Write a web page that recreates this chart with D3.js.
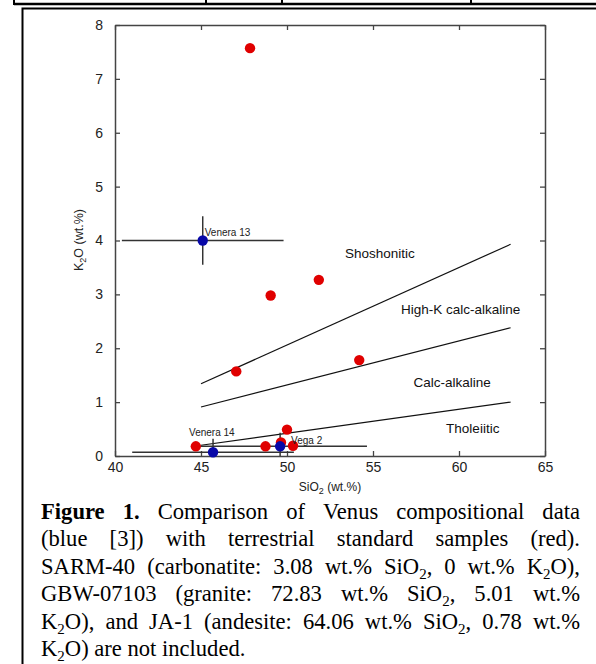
<!doctype html>
<html>
<head>
  <script src="https://d3js.org/d3.v7.min.js"></script>
  <style>
    body { margin:0; background:#fff; }
    svg { display:block; }
  </style>
</head>
<body>
  <script>
    // terrestrial standard samples (red)
    var redSiO2 = [47.85, 49.05, 51.85, 47.05, 54.2, 50.0, 44.7, 48.75, 49.65, 50.35];
    var redK2O  = [7.57, 2.98, 3.27, 1.57, 1.78, 0.49, 0.18, 0.18, 0.25, 0.19];

    // Venus lander data (blue) with error bars
    var venusNames   = ["Venera 13", "Venera 14", "Vega 2"];
    var venusSiO2    = [45.1, 45.7, 49.6];
    var venusK2O     = [4.0, 0.07, 0.18];
    var venusSiO2Err = [4.7, 4.7, 5.05];
    var venusK2OErr  = [0.45, 0.25, 0.25];

    // field boundaries (SiO2 end points, K2O at each end)
    var boundarySiO2 = [45, 63];
    var boundaryK2O  = [[1.34, 3.93], [0.91, 2.38], [0.2, 1.0]];

    // field names and where they sit
    var fieldNames = ["Shoshonitic", "High-K calc-alkaline", "Calc-alkaline", "Tholeiitic"];
    var fieldSiO2  = [55.4, 60.1, 59.6, 60.8];
    var fieldK2O   = [3.77, 2.73, 1.37, 0.52];

    var xTicks = [40, 45, 50, 55, 60, 65];
    var yTicks = [0, 1, 2, 3, 4, 5, 6, 7, 8];

    var captionLines = [
      "*Figure *1. Comparison of Venus compositional data",
      "(blue [3]) with terrestrial standard samples (red).",
      "SARM-40 (carbonatite: 3.08 wt.% SiO~2~, 0 wt.% K~2~O),",
      "GBW-07103 (granite: 72.83 wt.% SiO~2~, 5.01 wt.%",
      "K~2~O), and JA-1 (andesite: 64.06 wt.% SiO~2~, 0.78 wt.%",
      "K~2~O) are not included."
    ];

    var width = 596, height = 664;
    var sans = "'Liberation Sans', Arial, sans-serif";
    var serif = "'Liberation Serif', 'Times New Roman', serif";

    var svg = d3.select("body").append("svg")
      .attr("width", width)
      .attr("height", height);

    // bits of the page around the figure
    svg.append("line").attr("x1", 14).attr("x2", width).attr("y1", 4).attr("y2", 4)
      .attr("stroke", "#000").attr("stroke-width", 2.5);
    [14, 206, 282, 471].forEach(function(px){
      svg.append("line").attr("x1", px).attr("x2", px).attr("y1", 0).attr("y2", 5)
        .attr("stroke", "#000").attr("stroke-width", 2);
    });
    svg.append("path")
      .attr("d", "M22.5," + height + "V8.5H" + width)
      .attr("fill", "none").attr("stroke", "#000").attr("stroke-width", 2);

    var x = d3.scaleLinear().domain([40, 65]).range([115, 545]);
    var y = d3.scaleLinear().domain([0, 8]).range([456, 25]);

    // axes: ticks point inward on all four sides
    function styleAxis(g){
      g.select(".domain").attr("stroke", "#444").attr("stroke-width", 1.5);
      g.selectAll(".tick line").attr("stroke", "#444").attr("stroke-width", 1.3);
      g.selectAll("text").attr("font-family", sans).attr("font-size", 14).attr("fill", "#222");
    }
    svg.append("g").attr("transform", "translate(0,456)")
      .call(d3.axisBottom(x).tickValues(xTicks).tickSizeInner(-5).tickSizeOuter(0).tickPadding(6))
      .call(styleAxis);
    svg.append("g").attr("transform", "translate(0,25)")
      .call(d3.axisTop(x).tickValues(xTicks).tickSizeInner(-5).tickSizeOuter(0).tickFormat(""))
      .call(styleAxis);
    svg.append("g").attr("transform", "translate(115,0)")
      .call(d3.axisLeft(y).tickValues(yTicks).tickSizeInner(-5).tickSizeOuter(0).tickPadding(12))
      .call(styleAxis);
    svg.append("g").attr("transform", "translate(545,0)")
      .call(d3.axisRight(y).tickValues(yTicks).tickSizeInner(-5).tickSizeOuter(0).tickFormat(""))
      .call(styleAxis);

    // axis titles
    var xt = svg.append("text").attr("x", 330).attr("y", 491)
      .attr("text-anchor", "middle").attr("font-family", sans).attr("font-size", 12).attr("fill", "#222");
    xt.append("tspan").text("SiO");
    xt.append("tspan").text("2").attr("font-size", 9).attr("dy", 3);
    xt.append("tspan").text(" (wt.%)").attr("dy", -3);

    var yt = svg.append("text").attr("transform", "translate(83,240) rotate(-90)")
      .attr("text-anchor", "middle").attr("font-family", sans).attr("font-size", 12.5).attr("fill", "#222");
    yt.append("tspan").text("K");
    yt.append("tspan").text("2").attr("font-size", 9).attr("dy", 3);
    yt.append("tspan").text("O (wt.%)").attr("dy", -3);

    // field boundary lines
    boundaryK2O.forEach(function(k){
      svg.append("line")
        .attr("x1", x(boundarySiO2[0])).attr("y1", y(k[0]))
        .attr("x2", x(boundarySiO2[1])).attr("y2", y(k[1]))
        .attr("stroke", "#111").attr("stroke-width", 1.2);
    });

    // field names
    svg.selectAll(".field").data(fieldNames).enter().append("text")
      .attr("class", "field")
      .attr("x", function(d, i){ return x(fieldSiO2[i]); })
      .attr("y", function(d, i){ return y(fieldK2O[i]); })
      .attr("dy", "0.35em")
      .attr("text-anchor", "middle")
      .attr("font-family", sans).attr("font-size", 13.5).attr("fill", "#111")
      .text(function(d){ return d; });

    // error bars for Venus data, kept inside the axis range
    venusNames.forEach(function(name, i){
      var g = svg.append("g").attr("stroke", "#333").attr("stroke-width", 1.5);
      g.append("line")
        .attr("x1", x(venusSiO2[i] - venusSiO2Err[i])).attr("x2", x(venusSiO2[i] + venusSiO2Err[i]))
        .attr("y1", y(venusK2O[i])).attr("y2", y(venusK2O[i]));
      g.append("line")
        .attr("x1", x(venusSiO2[i])).attr("x2", x(venusSiO2[i]))
        .attr("y1", y(Math.max(0, venusK2O[i] - venusK2OErr[i])))
        .attr("y2", y(venusK2O[i] + venusK2OErr[i]));
    });

    // red standards
    svg.selectAll(".red").data(redSiO2).enter().append("circle")
      .attr("class", "red")
      .attr("cx", function(d){ return x(d); })
      .attr("cy", function(d, i){ return y(redK2O[i]); })
      .attr("r", 5.2)
      .attr("fill", "#e00000");

    // blue Venus points
    svg.selectAll(".blue").data(venusSiO2).enter().append("circle")
      .attr("class", "blue")
      .attr("cx", function(d){ return x(d); })
      .attr("cy", function(d, i){ return y(venusK2O[i]); })
      .attr("r", 5.2)
      .attr("fill", "#0808a8");

    // lander names
    var nameDx = [2, -24, 11];
    var nameDy = [-5, -16, -2];
    svg.selectAll(".vname").data(venusNames).enter().append("text")
      .attr("class", "vname")
      .attr("x", function(d, i){ return x(venusSiO2[i]) + nameDx[i]; })
      .attr("y", function(d, i){ return y(venusK2O[i]) + nameDy[i]; })
      .attr("font-family", sans).attr("font-size", 10).attr("fill", "#222")
      .text(function(d){ return d; });

    // caption, justified like the paper's column
    var capLeft = 41, capRight = 580, capTop = 519, capStep = 27.4;
    var cap = svg.append("g").attr("font-family", serif).attr("font-size", 22.6).attr("fill", "#000");

    function drawWord(word, py){
      var bold = word.charAt(0) === "*";
      if (bold) word = word.slice(1);
      var t = cap.append("text").attr("y", py).attr("font-weight", bold ? "bold" : null);
      var shift = 0;
      word.split("~").forEach(function(seg, i){
        if (!seg) { return; }
        var sp = t.append("tspan").text(seg);
        if (i % 2 === 1) {
          sp.attr("font-size", 15).attr("dy", 5 - shift); shift = 5;
        } else if (shift) {
          sp.attr("dy", -shift); shift = 0;
        }
      });
      return t;
    }

    captionLines.forEach(function(line, li){
      var py = capTop + li * capStep;
      var words = line.split(" ").map(function(w){ return drawWord(w, py); });
      var widths = words.map(function(t){ return t.node().getComputedTextLength(); });
      var total = d3.sum(widths);
      var last = li === captionLines.length - 1;
      var gap = last ? 5.6 : (capRight - capLeft - total) / (words.length - 1);
      var px = capLeft;
      words.forEach(function(t, i){
        t.attr("x", px);
        t.selectAll("tspan").filter(function(d, j){ return j === 0; }).attr("x", px);
        px += widths[i] + gap;
      });
    });
  </script>
</body>
</html>
